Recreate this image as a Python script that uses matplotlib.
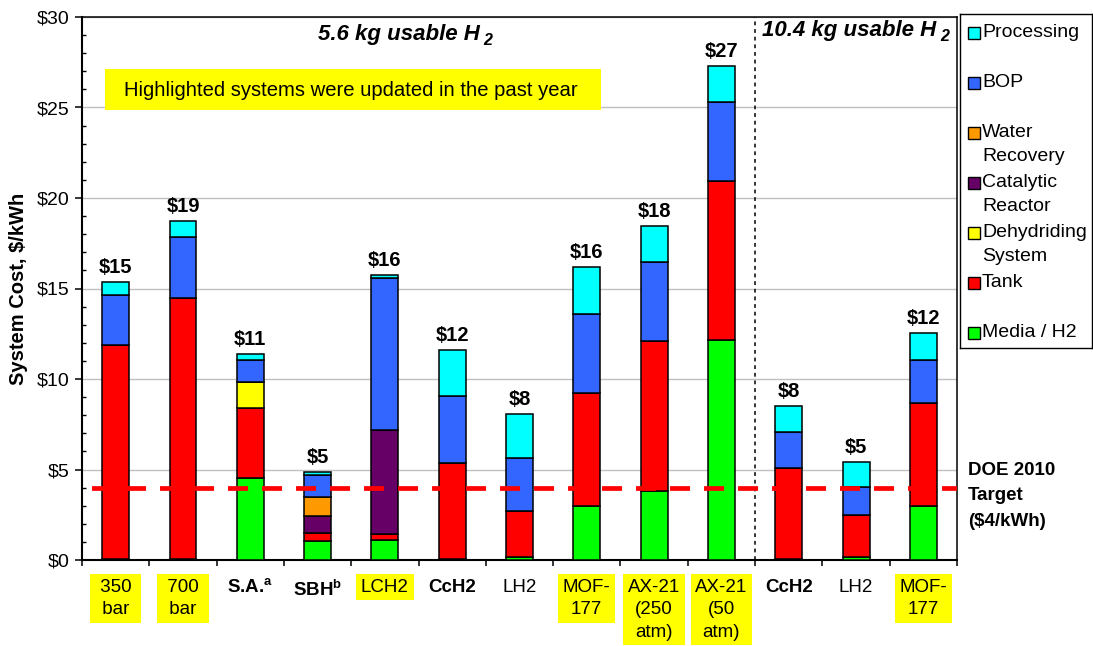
import numpy as np
import matplotlib
matplotlib.use('Agg')
import matplotlib.pyplot as plt
from matplotlib.patches import Rectangle
from matplotlib.ticker import MultipleLocator, FuncFormatter

plt.rcParams['font.family'] = ['Liberation Sans', 'DejaVu Sans']
plt.rcParams['mathtext.fontset'] = 'custom'
plt.rcParams['mathtext.rm'] = 'Liberation Sans'
plt.rcParams['mathtext.bf'] = 'Liberation Sans:bold'

# systems (x categories)
systems = [' 350 \n bar ', ' 700 \n bar ', r'S.A.$^{\mathbf{a}}$', r'SBH$^{\mathbf{b}}$', 'LCH2', 'CcH2', 'LH2',
           'MOF-\n177', 'AX-21\n(250\natm)', 'AX-21\n(50\natm)', 'CcH2', 'LH2', 'MOF-\n177']
highlighted = [True, True, False, False, True, False, False, True, True, True, False, False, True]
bold_names = [False, False, True, True, False, True, False, False, False, False, True, False, False]

# cost components, $/kWh (bottom to top of each stack)
media = [0.05, 0.05, 4.52, 1.05, 1.09, 0.05, 0.15, 2.99, 3.80, 12.17, 0.05, 0.17, 2.99]
tank = [11.81, 14.43, 3.88, 0.44, 0.37, 5.30, 2.58, 6.25, 8.28, 8.75, 5.04, 2.30, 5.70]
dehydriding = [0, 0, 1.45, 0, 0, 0, 0, 0, 0, 0, 0, 0, 0]
catalytic = [0, 0, 0, 0.93, 5.73, 0, 0, 0, 0, 0, 0, 0, 0]
water = [0, 0, 0, 1.05, 0, 0, 0, 0, 0, 0, 0, 0, 0]
bop = [2.77, 3.39, 1.22, 1.20, 8.41, 3.71, 2.91, 4.37, 4.37, 4.39, 1.96, 1.57, 2.36]
processing = [0.75, 0.84, 0.29, 0.18, 0.12, 2.52, 2.42, 2.57, 1.98, 1.99, 1.44, 1.35, 1.48]
cost_labels = ['$15', '$19', '$11', '$5', '$16', '$12', '$8', '$16', '$18', '$27', '$8', '$5', '$12']

doe_target = 4

components = [media, tank, dehydriding, catalytic, water, bop, processing]
comp_names = ['Media / H2', 'Tank', 'Dehydriding\nSystem', 'Catalytic\nReactor', 'Water\nRecovery', 'BOP', 'Processing']
comp_colors = ['#00FF00', '#FF0000', '#FFFF00', '#660066', '#FF9900', '#3366FF', '#00FFFF']

fig = plt.figure(figsize=(10.93, 6.46), dpi=100)
ax = fig.add_axes([82/1093, 1-560/646, 875/1093, 543/646])

x = np.arange(len(systems))
bottom = np.zeros(len(systems))
for vals, col in zip(components, comp_colors):
    ax.bar(x, vals, 0.4, bottom=bottom, color=col, edgecolor='black', linewidth=1.1, zorder=3)
    bottom += np.array(vals)

for i, lbl in enumerate(cost_labels):
    ax.annotate(lbl, (x[i], bottom[i]), xytext=(0, 6.5), textcoords='offset points',
                ha='center', va='baseline', fontweight='bold', fontsize=14.5)

# DOE target line
ax.axhline(doe_target, color='red', lw=3.4, linestyle=(5.18, (4.24, 2.96)), zorder=5)
ax.text(12.66, 3.54, 'DOE 2010\nTarget\n($4/kWh)', fontweight='bold', fontsize=13.5,
        va='center', ha='left', linespacing=1.65, clip_on=False)

# separator between 5.6 kg and 10.4 kg systems
ax.axvline(9.5, color='black', lw=1.1, linestyle=(0, (2.5, 2.5)), zorder=4)

t1 = ax.text(3.0, 28.72, '5.6 kg usable H', fontweight='bold', style='italic', fontsize=16)
ax.annotate('2', xy=(1, 0), xycoords=t1, xytext=(3, 0), textcoords='offset points',
            fontweight='bold', style='italic', fontsize=11.5, va='baseline')
t2 = ax.text(9.6, 28.96, '10.4 kg usable H', fontweight='bold', style='italic', fontsize=16)
ax.annotate('2', xy=(1, 0), xycoords=t2, xytext=(3, 0), textcoords='offset points',
            fontweight='bold', style='italic', fontsize=11.5, va='baseline')

ax.add_patch(Rectangle((-0.16, 24.85), 7.37, 2.27, facecolor='#FFFF00', edgecolor='none', zorder=2))
ax.text(0.12, 25.95, 'Highlighted systems were updated in the past year', fontsize=14.6, va='center', zorder=3)

ax.set_xlim(-0.5, 12.5)
ax.set_ylim(0, 30)
ax.yaxis.set_major_locator(MultipleLocator(5))
ax.yaxis.set_minor_locator(MultipleLocator(1))
ax.yaxis.set_major_formatter(FuncFormatter(lambda v, p: '$%d' % v))
ax.tick_params(axis='y', which='major', direction='out', length=5, width=1.1, labelsize=14, pad=4)
ax.tick_params(axis='y', which='minor', direction='in', length=3, width=1)
ax.grid(axis='y', which='major', color='#C0C0C0', lw=1)
ax.set_axisbelow(True)

ax.set_xticks(x)
ax.set_xticklabels(systems)
ax.set_xticks(np.arange(-0.5, 13, 1), minor=True)
ax.tick_params(axis='x', which='major', length=0, labelsize=13.5, pad=13.5)
ax.tick_params(axis='x', which='minor', direction='out', length=4.5, width=1.1)
for tl, hl, bd in zip(ax.get_xticklabels(), highlighted, bold_names):
    tl.set_linespacing(1.42)
    if bd:
        tl.set_fontweight('bold')
    if hl:
        tl.set_bbox(dict(facecolor='#FFFF00', edgecolor='none', boxstyle='square,pad=0.25'))

for s in ax.spines.values():
    s.set_linewidth(1.1)
ax.spines['left'].set_linewidth(1.5)
ax.spines['bottom'].set_linewidth(1.5)

ax.set_ylabel('System Cost, $/kWh', fontweight='bold', fontsize=14.5)
ax.yaxis.set_label_coords(-0.062, 0.5)

# legend box drawn by hand
lax = fig.add_axes([960/1093, 1-348/646, 132/1093, 334/646])
lax.set_xlim(0, 132)
lax.set_ylim(334, 0)
lax.set_xticks([])
lax.set_yticks([])
for s in lax.spines.values():
    s.set_linewidth(1)
for k, (name, col) in enumerate(zip(comp_names[::-1], comp_colors[::-1])):
    y = 18.5 + 50 * k
    lax.add_patch(Rectangle((8, y - 6), 12, 12, facecolor=col, edgecolor='black', lw=1))
    for j, line in enumerate(name.split('\n')):
        lax.text(22, y + 24.4 * j, line, va='center', fontsize=14)

fig.savefig('out.png', dpi=100)
